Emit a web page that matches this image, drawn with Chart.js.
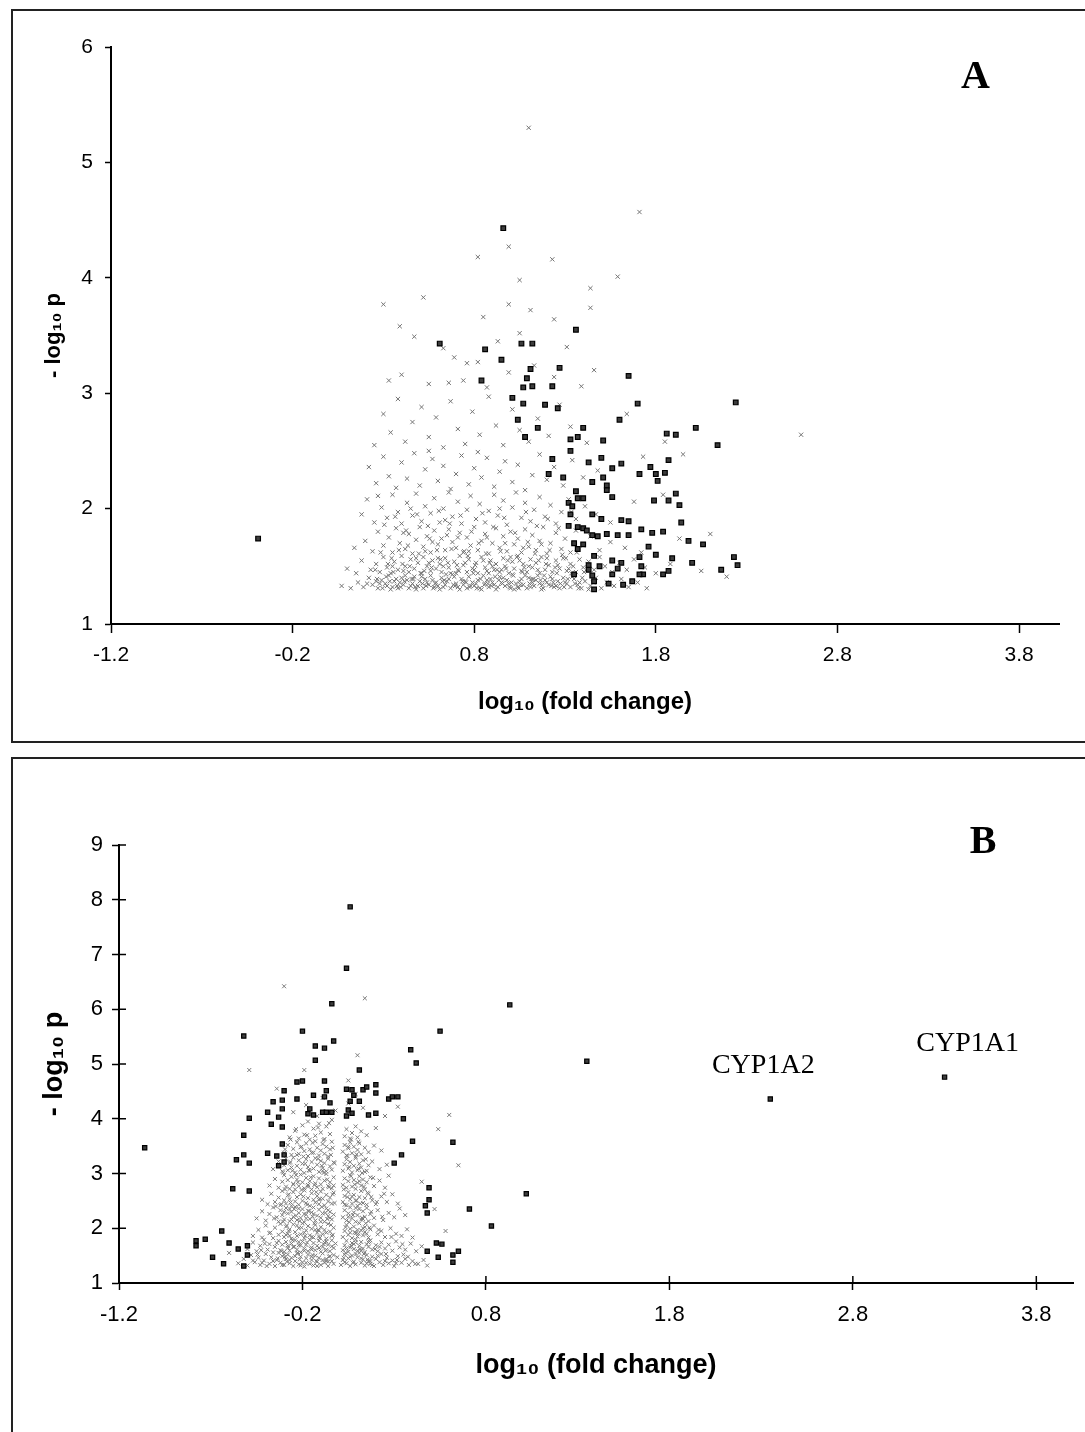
<!DOCTYPE html>
<html>
<head>
<meta charset="utf-8">
<script src="https://cdn.jsdelivr.net/npm/chart.js@4.4.1/dist/chart.umd.min.js"></script>
<style>
  html, body { margin: 0; padding: 0; background: #fff; }
  body { width: 1085px; height: 1432px; position: relative; overflow: hidden; }
  .box { position: absolute; border: 2px solid #222; border-right: none; }
  #boxA { left: 11px; top: 9px; width: 1080px; height: 730px; }
  #boxB { left: 11px; top: 757px; width: 1080px; height: 700px; border-bottom: none; }
  canvas { position: absolute; }
  #chartA { left: 12px; top: 10px; }
  #chartB { left: 12px; top: 759px; }
</style>
</head>
<body>
<div class="box" id="boxA"></div>
<div class="box" id="boxB"></div>
<canvas id="chartA" width="1073" height="732"></canvas>
<canvas id="chartB" width="1073" height="673"></canvas>
<script>
const xTickValues = [-1.2, -0.2, 0.8, 1.8, 2.8, 3.8];

// panel A: grey = all genes with p < 0.05, dark = flagged genes
const aGrey = [
  [0.07,1.33],[0.12,1.31],[0.16,1.36],[0.19,1.32],[0.22,1.40],[0.24,1.34],[0.27,1.31],[0.29,1.38],[0.31,1.35],[0.33,1.42],
  [0.35,1.32],[0.36,1.37],[0.38,1.31],[0.40,1.40],[0.41,1.34],[0.43,1.38],[0.44,1.31],[0.46,1.35],[0.47,1.41],[0.49,1.33],
  [0.50,1.37],[0.52,1.31],[0.53,1.39],[0.55,1.34],[0.56,1.42],[0.58,1.32],[0.59,1.36],[0.61,1.30],[0.62,1.40],[0.64,1.34],
  [0.65,1.37],[0.67,1.31],[0.68,1.43],[0.70,1.35],[0.71,1.32],[0.73,1.39],[0.74,1.34],[0.76,1.31],[0.77,1.41],[0.79,1.36],
  [0.80,1.33],[0.82,1.38],[0.83,1.31],[0.85,1.42],[0.86,1.35],[0.88,1.32],[0.89,1.39],[0.91,1.34],[0.92,1.30],[0.94,1.41],
  [0.95,1.36],[0.97,1.33],[0.98,1.38],[1.00,1.31],[1.01,1.43],[1.03,1.35],[1.04,1.32],[1.06,1.39],[1.07,1.34],[1.09,1.31],
  [1.10,1.40],[1.12,1.36],[1.13,1.33],[1.15,1.42],[1.16,1.35],[1.18,1.31],[1.19,1.38],[1.21,1.34],[1.22,1.41],[1.24,1.32],
  [1.26,1.37],[1.27,1.31],[1.29,1.40],[1.31,1.35],[1.33,1.32],[1.35,1.39],[1.37,1.34],[1.39,1.31],[1.41,1.37],[1.44,1.33],
  [1.47,1.40],[1.50,1.31],[1.53,1.36],[1.57,1.33],[1.61,1.39],[1.65,1.32],[1.70,1.36],[1.75,1.31],
  [0.28,1.35],[0.34,1.30],[0.39,1.36],[0.45,1.33],[0.51,1.41],[0.57,1.38],[0.60,1.33],[0.66,1.39],[0.72,1.30],[0.75,1.37],
  [0.81,1.35],[0.84,1.30],[0.87,1.38],[0.90,1.36],[0.93,1.32],[0.96,1.40],[0.99,1.35],[1.02,1.30],[1.05,1.37],[1.08,1.42],
  [1.11,1.32],[1.14,1.38],[1.17,1.30],[1.20,1.36],[1.23,1.39],[1.25,1.33],[1.30,1.36],[1.34,1.41],[1.38,1.36],[1.43,1.30],
  [0.54,1.36],[0.63,1.32],[0.69,1.41],[0.78,1.33],[0.48,1.30],[0.42,1.42],[0.37,1.39],[0.32,1.33],[0.26,1.37],[0.21,1.35],
  [0.10,1.48],[0.15,1.44],[0.18,1.55],[0.23,1.47],[0.26,1.52],[0.28,1.45],[0.30,1.58],[0.32,1.49],[0.34,1.44],[0.36,1.54],
  [0.38,1.47],[0.40,1.59],[0.42,1.50],[0.44,1.45],[0.45,1.56],[0.47,1.48],[0.49,1.53],[0.51,1.44],[0.52,1.58],[0.54,1.50],
  [0.56,1.46],[0.57,1.55],[0.59,1.48],[0.61,1.52],[0.62,1.45],[0.64,1.57],[0.66,1.49],[0.67,1.44],[0.69,1.54],[0.71,1.47],
  [0.72,1.59],[0.74,1.51],[0.76,1.45],[0.77,1.56],[0.79,1.48],[0.81,1.53],[0.82,1.44],[0.84,1.58],[0.86,1.49],[0.87,1.46],
  [0.89,1.55],[0.91,1.47],[0.92,1.52],[0.94,1.45],[0.96,1.57],[0.97,1.50],[0.99,1.44],[1.01,1.54],[1.02,1.48],[1.04,1.59],
  [1.06,1.46],[1.07,1.52],[1.09,1.45],[1.11,1.56],[1.12,1.49],[1.14,1.53],[1.16,1.44],[1.17,1.58],[1.19,1.47],[1.21,1.51],
  [1.23,1.45],[1.25,1.55],[1.27,1.48],[1.29,1.57],[1.31,1.46],[1.33,1.52],[1.36,1.45],[1.38,1.56],[1.40,1.49],[1.43,1.54],
  [1.46,1.47],[1.49,1.58],[1.52,1.50],[1.56,1.45],[1.60,1.53],[1.64,1.47],[1.68,1.56],[1.74,1.49],[1.80,1.44],[1.88,1.52],
  [2.05,1.46],[2.19,1.41],
  [0.35,1.50],[0.41,1.46],[0.48,1.57],[0.55,1.53],[0.63,1.50],[0.70,1.44],[0.75,1.53],[0.80,1.47],[0.85,1.55],[0.90,1.50],
  [0.95,1.47],[1.00,1.58],[1.05,1.55],[1.10,1.50],[1.15,1.47],[1.20,1.57],[1.26,1.51],[1.32,1.48],[0.60,1.57],[0.88,1.44],
  [0.14,1.66],[0.20,1.72],[0.24,1.63],[0.27,1.80],[0.30,1.68],[0.33,1.75],[0.35,1.62],[0.37,1.83],[0.39,1.70],[0.42,1.65],
  [0.44,1.78],[0.46,1.61],[0.48,1.73],[0.50,1.84],[0.52,1.67],[0.54,1.76],[0.56,1.62],[0.58,1.81],[0.60,1.69],[0.62,1.74],
  [0.64,1.64],[0.66,1.82],[0.68,1.71],[0.70,1.66],[0.72,1.79],[0.74,1.62],[0.76,1.75],[0.78,1.68],[0.80,1.84],[0.82,1.64],
  [0.84,1.72],[0.86,1.78],[0.88,1.61],[0.90,1.70],[0.92,1.83],[0.94,1.66],[0.96,1.76],[0.98,1.63],[1.00,1.80],[1.02,1.69],
  [1.04,1.74],[1.06,1.62],[1.08,1.82],[1.10,1.67],[1.12,1.77],[1.14,1.64],[1.16,1.72],[1.18,1.84],[1.20,1.61],[1.22,1.70],
  [1.25,1.79],[1.28,1.65],[1.30,1.74],[1.33,1.62],[1.36,1.81],[1.40,1.68],[1.44,1.76],[1.49,1.64],[1.55,1.71],[1.63,1.66],
  [1.72,1.62],[1.93,1.74],[2.10,1.78],
  [0.41,1.79],[0.53,1.63],[0.65,1.77],[0.77,1.63],[0.87,1.75],[0.97,1.70],[1.07,1.66],[1.17,1.69],[0.57,1.71],[0.71,1.75],
  [0.18,1.95],[0.21,2.08],[0.25,1.88],[0.29,2.01],[0.32,1.92],[0.35,2.12],[0.38,1.97],[0.40,1.87],[0.43,2.05],[0.46,1.94],
  [0.48,2.13],[0.51,1.89],[0.53,2.02],[0.56,1.96],[0.58,2.09],[0.61,1.88],[0.63,2.00],[0.66,2.14],[0.68,1.93],[0.71,2.06],
  [0.73,1.87],[0.76,1.99],[0.78,2.11],[0.81,1.91],[0.83,2.04],[0.86,1.88],[0.88,1.98],[0.91,2.12],[0.93,1.94],[0.96,2.07],
  [0.98,1.86],[1.01,2.01],[1.03,2.14],[1.06,1.92],[1.08,2.05],[1.11,1.89],[1.13,1.99],[1.16,2.10],[1.19,1.93],[1.22,2.03],
  [1.25,1.87],[1.28,1.97],[1.32,2.08],[1.36,1.91],[1.41,2.02],[1.47,1.95],[1.55,1.88],[1.68,2.06],[1.84,2.12],[0.27,2.11],
  [0.45,2.00],[0.64,1.90],[0.94,2.00],
  [0.22,2.36],[0.26,2.22],[0.30,2.45],[0.33,2.28],[0.37,2.18],[0.40,2.40],[0.43,2.26],[0.47,2.48],[0.50,2.20],[0.53,2.34],
  [0.57,2.43],[0.60,2.24],[0.63,2.37],[0.67,2.17],[0.70,2.30],[0.73,2.46],[0.77,2.21],[0.80,2.35],[0.84,2.27],[0.87,2.44],
  [0.91,2.19],[0.94,2.32],[0.97,2.41],[1.01,2.23],[1.04,2.38],[1.08,2.16],[1.12,2.29],[1.16,2.47],[1.20,2.25],[1.24,2.36],
  [1.29,2.20],[1.34,2.42],[1.40,2.27],[1.48,2.33],[1.73,2.45],[1.95,2.47],[0.55,2.50],[0.82,2.49],
  [0.25,2.55],[0.30,2.82],[0.34,2.66],[0.38,2.95],[0.42,2.58],[0.46,2.75],[0.51,2.88],[0.55,2.62],[0.59,2.79],[0.63,2.53],
  [0.67,2.93],[0.71,2.69],[0.75,2.56],[0.79,2.84],[0.83,2.64],[0.88,2.97],[0.92,2.72],[0.96,2.55],[1.01,2.86],[1.05,2.68],
  [1.10,2.58],[1.15,2.78],[1.21,2.63],[1.27,2.90],[1.33,2.71],[1.42,2.57],[1.64,2.82],[1.85,2.58],[2.60,2.64],
  [0.33,3.11],[0.40,3.16],[0.47,3.49],[0.55,3.08],[0.63,3.39],[0.66,3.09],[0.69,3.31],[0.74,3.11],[0.76,3.26],[0.82,3.27],
  [0.87,3.05],[0.93,3.45],[0.99,3.18],[1.05,3.52],[1.13,3.24],[1.24,3.14],[1.31,3.40],[1.39,3.06],[1.46,3.20],
  [1.10,5.30],[1.71,4.57],[0.99,4.27],[0.82,4.18],[1.23,4.16],[1.59,4.01],[1.44,3.91],[1.44,3.74],[0.30,3.77],[0.99,3.77],
  [1.11,3.72],[0.85,3.66],[1.24,3.64],[0.39,3.58],[0.52,3.83],[1.05,3.98]
];

// the crowded lower part of the panel A cloud
const aGreyCore = [
  [0.255,1.47],[0.285,1.62],[0.315,1.41],[0.345,1.57],[0.375,1.33],[0.405,1.52],[0.435,1.68],[0.465,1.39],[0.495,1.61],[0.525,1.46],
  [0.555,1.74],[0.585,1.35],[0.615,1.56],[0.645,1.43],[0.675,1.65],[0.705,1.51],[0.735,1.37],[0.765,1.59],[0.795,1.44],[0.825,1.70],
  [0.855,1.34],[0.885,1.53],[0.915,1.41],[0.945,1.63],[0.975,1.48],[1.005,1.36],[1.035,1.58],[1.065,1.45],[1.095,1.71],[1.125,1.39],
  [1.155,1.55],[1.185,1.42],[1.215,1.64],[1.245,1.49],[1.275,1.35],[1.305,1.57],[1.335,1.44],[1.365,1.62],[1.395,1.40],[1.425,1.52],
  [0.265,1.39],[0.295,1.31],[0.325,1.52],[0.355,1.45],[0.385,1.64],[0.415,1.37],[0.445,1.50],[0.475,1.32],[0.505,1.44],[0.535,1.33],
  [0.565,1.49],[0.595,1.64],[0.625,1.37],[0.655,1.53],[0.685,1.34],[0.715,1.46],[0.745,1.63],[0.775,1.32],[0.805,1.51],[0.835,1.39],
  [0.865,1.61],[0.895,1.33],[0.925,1.47],[0.955,1.35],[0.985,1.55],[1.015,1.42],[1.045,1.31],[1.075,1.49],[1.105,1.35],[1.135,1.61],
  [1.165,1.38],[1.195,1.52],[1.225,1.33],[1.255,1.44],[1.285,1.60],[1.315,1.39],[1.345,1.50],[1.375,1.31],[1.405,1.45],[1.455,1.36],
  [0.305,1.86],[0.365,1.93],[0.425,1.81],[0.485,1.95],[0.545,1.85],[0.605,1.98],[0.665,1.87],[0.725,1.94],[0.785,1.80],[0.845,1.96],
  [0.905,1.84],[0.965,1.92],[1.025,1.79],[1.085,1.97],[1.145,1.85],[1.205,1.91],[1.265,1.83],[1.335,1.97],
  [0.335,1.37],[0.395,1.32],[0.455,1.39],[0.515,1.35],[0.575,1.31],[0.635,1.38],[0.695,1.33],[0.755,1.36],[0.815,1.31],[0.875,1.35],
  [0.935,1.38],[0.995,1.32],[1.055,1.34],[1.115,1.39],[1.175,1.34],[1.235,1.36],[1.295,1.32],[1.355,1.35]
];

const aDark = [
  [-0.39,1.74],[0.96,4.43],[0.61,3.43],[1.06,3.43],[1.12,3.43],[0.86,3.38],[1.36,3.55],[0.95,3.29],[1.11,3.21],[1.27,3.22],
  [0.84,3.11],[1.09,3.13],[1.12,3.06],[1.07,3.05],[1.23,3.06],[1.65,3.15],[1.01,2.96],[1.07,2.91],[1.19,2.90],[1.26,2.87],
  [1.70,2.91],[2.24,2.92],[1.04,2.77],[1.60,2.77],[1.15,2.70],[1.08,2.62],[1.33,2.60],[1.37,2.62],[1.40,2.70],[2.02,2.70],
  [1.86,2.65],[1.91,2.64],[1.51,2.59],[1.33,2.50],[2.14,2.55],[1.23,2.43],[1.43,2.40],[1.50,2.44],[1.61,2.39],[1.87,2.42],
  [1.56,2.35],[1.21,2.30],[1.29,2.27],[1.51,2.27],[1.45,2.23],[1.71,2.30],[1.77,2.36],[1.80,2.30],[1.81,2.24],[1.85,2.31],
  [1.53,2.20],[1.53,2.16],[1.36,2.15],[1.56,2.10],[1.91,2.13],[1.40,2.09],[1.37,2.09],[1.79,2.07],[1.87,2.07],[1.93,2.03],
  [1.32,2.05],[1.34,2.02],[1.33,1.95],[1.45,1.95],[1.50,1.91],[1.61,1.90],[1.65,1.89],[1.94,1.88],[1.32,1.85],[1.37,1.84],
  [1.40,1.83],[1.42,1.81],[1.45,1.77],[1.48,1.76],[1.53,1.78],[1.59,1.77],[1.65,1.77],[1.72,1.82],[1.78,1.79],[1.84,1.80],
  [1.35,1.70],[1.40,1.69],[1.37,1.65],[1.76,1.67],[1.98,1.72],[2.06,1.69],[2.23,1.58],[2.25,1.51],[2.16,1.47],[2.00,1.53],
  [1.89,1.57],[1.80,1.60],[1.71,1.58],[1.46,1.59],[1.43,1.51],[1.43,1.47],[1.45,1.42],[1.49,1.50],[1.56,1.55],[1.61,1.53],
  [1.59,1.48],[1.56,1.43],[1.54,1.35],[1.46,1.37],[1.46,1.30],[1.62,1.34],[1.67,1.37],[1.72,1.50],[1.73,1.43],[1.84,1.43],
  [1.87,1.46],[1.71,1.43],[1.35,1.43]
];

// panel B
const bGrey = [
  [-0.55,1.36],[-0.52,1.44],[-0.50,1.32],[-0.48,1.51],[-0.46,1.38],[-0.44,1.46],[-0.43,1.33],[-0.41,1.41],[-0.40,1.53],[-0.38,1.35],
  [-0.37,1.47],[-0.35,1.31],[-0.34,1.42],[-0.33,1.55],[-0.32,1.37],[-0.31,1.49],[-0.30,1.33],[-0.29,1.44],[-0.28,1.52],[-0.27,1.36],
  [-0.26,1.46],[-0.25,1.31],[-0.24,1.40],[-0.23,1.54],[-0.22,1.34],[-0.21,1.48],[-0.20,1.38],[-0.19,1.30],[-0.18,1.45],[-0.17,1.52],
  [-0.16,1.35],[-0.15,1.42],[-0.14,1.32],[-0.13,1.50],[-0.12,1.39],[-0.11,1.46],[-0.10,1.33],[-0.09,1.54],[-0.08,1.37],[-0.07,1.44],
  [-0.06,1.31],[-0.05,1.49],[-0.04,1.40],[-0.03,1.35],[-0.01,1.47],[0.01,1.33],[0.02,1.42],[0.03,1.52],[0.04,1.36],[0.05,1.45],
  [0.06,1.31],[0.07,1.50],[0.08,1.39],[0.09,1.34],[0.10,1.47],[0.11,1.55],[0.12,1.37],[0.13,1.43],[0.14,1.32],[0.15,1.51],
  [0.16,1.40],[0.17,1.35],[0.18,1.48],[0.19,1.31],[0.20,1.44],[0.22,1.38],[0.23,1.53],[0.24,1.33],[0.26,1.46],[0.27,1.36],
  [0.29,1.41],[0.30,1.31],[0.32,1.49],[0.34,1.37],[0.36,1.44],[0.38,1.33],[0.40,1.40],[0.43,1.35],[0.46,1.42],[0.48,1.32],
  [-0.47,1.41],[-0.42,1.37],[-0.36,1.40],[-0.30,1.52],[-0.27,1.42],[-0.24,1.49],[-0.21,1.32],[-0.18,1.37],[-0.15,1.48],[-0.12,1.31],
  [-0.09,1.42],[-0.06,1.39],[-0.03,1.51],[0.03,1.38],[0.06,1.48],[0.09,1.53],[0.12,1.45],[0.15,1.36],[0.18,1.33],[0.21,1.50],
  [0.25,1.40],[0.31,1.36],[0.35,1.52],
  [-0.50,1.62],[-0.47,1.74],[-0.45,1.58],[-0.43,1.68],[-0.41,1.79],[-0.39,1.61],[-0.38,1.71],[-0.36,1.56],[-0.35,1.66],[-0.33,1.77],
  [-0.32,1.60],[-0.31,1.70],[-0.30,1.57],[-0.29,1.75],[-0.28,1.64],[-0.27,1.59],[-0.26,1.72],[-0.25,1.66],[-0.24,1.78],[-0.23,1.61],
  [-0.22,1.69],[-0.21,1.56],[-0.20,1.76],[-0.19,1.63],[-0.18,1.70],[-0.17,1.58],[-0.16,1.79],[-0.15,1.65],[-0.14,1.73],[-0.13,1.60],
  [-0.12,1.68],[-0.11,1.77],[-0.10,1.57],[-0.09,1.66],[-0.08,1.74],[-0.07,1.61],[-0.06,1.70],[-0.05,1.58],[-0.04,1.78],[-0.03,1.64],
  [-0.02,1.72],[0.02,1.60],[0.03,1.69],[0.04,1.77],[0.05,1.57],[0.06,1.65],[0.07,1.73],[0.08,1.62],[0.09,1.79],[0.10,1.59],
  [0.11,1.68],[0.12,1.75],[0.13,1.63],[0.14,1.56],[0.15,1.71],[0.16,1.66],[0.17,1.78],[0.18,1.61],[0.20,1.69],[0.21,1.58],
  [0.23,1.74],[0.25,1.63],[0.27,1.70],[0.29,1.59],[0.31,1.76],[0.33,1.65],[0.36,1.61],[0.39,1.72],[0.42,1.58],[0.45,1.67],
  [-0.34,1.73],[-0.28,1.68],[-0.22,1.75],[-0.19,1.59],[-0.15,1.61],[-0.11,1.64],[-0.07,1.76],[-0.04,1.67],[0.04,1.63],[0.08,1.71],
  [0.12,1.59],[0.16,1.74],[0.22,1.66],
  [-0.47,1.86],[-0.44,1.97],[-0.42,1.83],[-0.40,2.05],[-0.38,1.91],[-0.36,1.82],[-0.35,2.01],[-0.33,1.88],[-0.32,2.08],[-0.31,1.94],
  [-0.30,1.84],[-0.29,2.03],[-0.28,1.90],[-0.27,1.98],[-0.26,1.81],[-0.25,2.07],[-0.24,1.93],[-0.23,1.86],[-0.22,2.00],[-0.21,1.89],
  [-0.20,2.09],[-0.19,1.82],[-0.18,1.96],[-0.17,2.04],[-0.16,1.87],[-0.15,1.99],[-0.14,1.83],[-0.13,2.06],[-0.12,1.92],[-0.11,1.85],
  [-0.10,2.02],[-0.09,1.89],[-0.08,1.97],[-0.07,1.81],[-0.06,2.08],[-0.05,1.94],[-0.04,1.86],[-0.03,2.01],[0.02,1.84],[0.03,1.95],
  [0.04,2.06],[0.05,1.88],[0.06,1.99],[0.07,1.82],[0.08,2.03],[0.09,1.91],[0.10,1.85],[0.11,2.09],[0.12,1.96],[0.13,1.87],
  [0.14,2.02],[0.15,1.90],[0.16,1.83],[0.17,1.98],[0.19,2.05],[0.21,1.89],[0.23,1.95],[0.25,1.84],[0.28,2.00],[0.31,1.90],
  [0.34,1.86],[0.37,1.98],[0.40,1.83],
  [-0.27,1.86],[-0.23,2.05],[-0.19,1.92],[-0.15,1.84],[-0.11,1.96],[-0.07,1.92],[0.06,1.92],[0.10,1.97],[0.14,1.93],
  [-0.45,2.18],[-0.42,2.31],[-0.40,2.14],[-0.38,2.26],[-0.36,2.38],[-0.34,2.20],[-0.33,2.12],[-0.32,2.33],[-0.31,2.24],[-0.30,2.16],
  [-0.29,2.37],[-0.28,2.27],[-0.27,2.13],[-0.26,2.30],[-0.25,2.21],[-0.24,2.39],[-0.23,2.15],[-0.22,2.28],[-0.21,2.19],[-0.20,2.35],
  [-0.19,2.11],[-0.18,2.25],[-0.17,2.32],[-0.16,2.17],[-0.15,2.29],[-0.14,2.38],[-0.13,2.14],[-0.12,2.23],[-0.11,2.34],[-0.10,2.19],
  [-0.09,2.27],[-0.08,2.12],[-0.07,2.36],[-0.06,2.22],[-0.05,2.30],[-0.04,2.16],[-0.03,2.25],[0.02,2.20],[0.03,2.33],[0.04,2.14],
  [0.05,2.27],[0.06,2.38],[0.07,2.18],[0.08,2.29],[0.09,2.12],[0.10,2.24],[0.11,2.35],[0.12,2.16],[0.13,2.31],[0.14,2.21],
  [0.15,2.37],[0.16,2.13],[0.17,2.26],[0.19,2.19],[0.21,2.33],[0.24,2.15],[0.27,2.28],[0.30,2.20],[0.33,2.36],[0.36,2.24],
  [-0.30,2.30],[-0.26,2.16],[-0.22,2.36],[-0.18,2.18],[-0.14,2.26],[-0.10,2.12],[-0.06,2.33],[0.05,2.21],[0.09,2.37],[0.13,2.17],
  [-0.42,2.52],[-0.39,2.44],[-0.37,2.63],[-0.35,2.48],[-0.33,2.56],[-0.32,2.42],[-0.31,2.68],[-0.30,2.51],[-0.29,2.45],[-0.28,2.60],
  [-0.27,2.53],[-0.26,2.41],[-0.25,2.66],[-0.24,2.49],[-0.23,2.57],[-0.22,2.43],[-0.21,2.62],[-0.20,2.50],[-0.19,2.69],[-0.18,2.46],
  [-0.17,2.55],[-0.16,2.41],[-0.15,2.64],[-0.14,2.52],[-0.13,2.47],[-0.12,2.59],[-0.11,2.44],[-0.10,2.67],[-0.09,2.54],[-0.08,2.42],
  [-0.07,2.61],[-0.06,2.49],[-0.05,2.56],[-0.04,2.45],[-0.03,2.65],[0.02,2.48],[0.03,2.59],[0.04,2.42],[0.05,2.66],[0.06,2.53],
  [0.07,2.45],[0.08,2.61],[0.09,2.50],[0.10,2.41],[0.11,2.57],[0.12,2.68],[0.13,2.46],[0.14,2.55],[0.15,2.43],[0.16,2.63],
  [0.18,2.51],[0.20,2.44],[0.23,2.58],[0.26,2.48],[0.29,2.62],[0.32,2.45],
  [-0.38,2.78],[-0.35,2.90],[-0.33,2.74],[-0.31,2.85],[-0.30,2.97],[-0.29,2.76],[-0.28,2.88],[-0.27,2.72],[-0.26,2.94],[-0.25,2.81],
  [-0.24,2.71],[-0.23,2.89],[-0.22,2.77],[-0.21,2.98],[-0.20,2.84],[-0.19,2.73],[-0.18,2.92],[-0.17,2.79],[-0.16,2.86],[-0.15,2.71],
  [-0.14,2.95],[-0.13,2.82],[-0.12,2.75],[-0.11,2.91],[-0.10,2.80],[-0.09,2.72],[-0.08,2.87],[-0.07,2.99],[-0.06,2.77],[-0.05,2.84],
  [-0.04,2.73],[-0.03,2.93],[0.02,2.79],[0.03,2.91],[0.04,2.74],[0.05,2.86],[0.06,2.97],[0.07,2.76],[0.08,2.88],[0.09,2.72],
  [0.10,2.83],[0.11,2.95],[0.12,2.78],[0.13,2.89],[0.14,2.71],[0.15,2.84],[0.17,2.93],[0.19,2.77],[0.22,2.87],[0.25,2.74],
  [0.27,2.96],
  [-0.36,3.08],[-0.33,3.22],[-0.31,3.04],[-0.30,3.15],[-0.29,3.27],[-0.28,3.06],[-0.27,3.19],[-0.26,3.11],[-0.25,3.29],[-0.24,3.02],
  [-0.23,3.14],[-0.22,3.24],[-0.21,3.07],[-0.20,3.18],[-0.19,3.01],[-0.18,3.26],[-0.17,3.12],[-0.16,3.05],[-0.15,3.21],[-0.14,3.09],
  [-0.13,3.28],[-0.12,3.16],[-0.11,3.03],[-0.10,3.23],[-0.09,3.10],[-0.08,3.19],[-0.07,3.04],[-0.06,3.27],[-0.05,3.13],[-0.04,3.07],
  [-0.03,3.20],[0.02,3.05],[0.03,3.17],[0.04,3.26],[0.05,3.09],[0.06,3.21],[0.07,3.02],[0.08,3.14],[0.09,3.28],[0.10,3.06],
  [0.11,3.18],[0.12,3.11],[0.13,3.24],[0.14,3.03],[0.16,3.15],[0.18,3.22],[0.22,3.08],[0.26,3.16],
  [-0.30,3.38],[-0.28,3.52],[-0.26,3.34],[-0.25,3.45],[-0.23,3.57],[-0.22,3.36],[-0.21,3.48],[-0.19,3.41],[-0.18,3.55],[-0.17,3.32],
  [-0.16,3.44],[-0.14,3.38],[-0.13,3.59],[-0.12,3.47],[-0.11,3.33],[-0.10,3.42],[-0.09,3.54],[-0.08,3.36],[-0.07,3.49],[-0.06,3.31],
  [-0.05,3.44],[-0.04,3.58],[0.02,3.40],[0.03,3.52],[0.04,3.33],[0.05,3.46],[0.06,3.57],[0.07,3.37],[0.08,3.49],[0.09,3.31],
  [0.10,3.43],[0.11,3.55],[0.12,3.35],[0.14,3.47],[0.16,3.39],[0.19,3.51],[0.23,3.42],
  [-0.27,3.66],[-0.24,3.78],[-0.22,3.64],[-0.20,3.88],[-0.19,3.71],[-0.17,3.95],[-0.16,3.62],[-0.14,3.82],[-0.13,3.69],[-0.11,3.91],
  [-0.10,3.75],[-0.08,3.63],[-0.07,3.86],[-0.05,3.72],[-0.04,3.98],[0.03,3.68],[0.04,3.81],[0.06,3.64],[0.07,3.74],[0.09,3.86],
  [0.10,3.66],[0.12,3.77],[0.15,3.70],[0.20,3.83],
  [-0.25,4.12],[-0.18,4.25],[-0.12,4.05],[-0.09,4.38],[-0.02,4.15],[0.05,4.28],[0.09,4.45],[0.13,4.20],[0.25,4.05],[0.32,4.22],
  [-0.30,6.42],[0.14,6.20],[-0.49,4.89],[-0.19,4.89],[0.10,5.16],[0.54,3.81],[0.60,4.07],[0.65,3.15],[0.45,2.85],[0.52,2.35],
  [0.58,1.95],[-0.60,1.55],[0.05,4.70],[-0.34,4.55]
];

// the two crowded columns of the panel B cloud
const bGreyCore = [
  [-0.315,1.58],[-0.305,2.12],[-0.295,2.71],[-0.285,1.39],[-0.275,1.95],[-0.265,2.47],[-0.255,3.05],[-0.245,1.66],[-0.235,2.23],[-0.225,2.84],
  [-0.215,1.43],[-0.205,2.01],[-0.195,2.58],[-0.185,3.18],[-0.175,1.74],[-0.165,2.31],[-0.155,2.93],[-0.145,1.51],[-0.135,2.09],[-0.125,2.66],
  [-0.115,3.27],[-0.105,1.82],[-0.095,2.39],[-0.085,3.01],[-0.075,1.59],[-0.065,2.17],[-0.055,2.75],[-0.045,3.34],[-0.035,1.88],[-0.025,2.46],
  [-0.315,2.44],[-0.305,3.02],[-0.295,1.47],[-0.285,2.05],[-0.275,2.62],[-0.265,3.21],[-0.255,1.78],[-0.245,2.35],[-0.235,2.97],[-0.225,1.55],
  [-0.215,2.13],[-0.205,2.70],[-0.195,3.31],[-0.185,1.86],[-0.175,2.43],[-0.165,3.06],[-0.155,1.63],[-0.145,2.21],[-0.135,2.79],[-0.125,1.40],
  [-0.115,1.97],[-0.105,2.54],[-0.095,3.14],[-0.085,1.71],[-0.075,2.28],[-0.065,2.89],[-0.055,1.48],[-0.045,2.06],[-0.035,2.62],[-0.025,3.19],
  [-0.31,1.33],[-0.29,1.88],[-0.27,2.35],[-0.25,2.80],[-0.23,3.34],[-0.21,1.69],[-0.19,2.26],[-0.17,2.76],[-0.15,3.38],[-0.13,1.97],
  [-0.11,2.52],[-0.09,3.05],[-0.07,1.40],[-0.05,2.19],[-0.03,2.78],
  [-0.295,3.44],[-0.265,3.62],[-0.235,3.81],[-0.205,3.49],[-0.175,3.70],[-0.145,3.56],[-0.115,3.84],[-0.085,3.61],[-0.055,3.92],[-0.035,3.47],
  [0.025,1.46],[0.035,2.02],[0.045,2.57],[0.055,3.12],[0.065,1.68],[0.075,2.24],[0.085,2.80],[0.095,3.35],[0.105,1.90],[0.115,2.45],
  [0.125,3.01],[0.135,1.53],[0.145,2.09],[0.155,2.65],[0.165,1.76],[0.175,2.30],
  [0.025,2.71],[0.035,1.55],[0.045,3.32],[0.055,2.11],[0.065,2.95],[0.075,1.37],[0.085,1.93],[0.095,2.51],[0.105,3.09],[0.115,1.62],
  [0.125,2.19],[0.135,2.76],[0.145,3.26],[0.155,1.43],[0.165,2.01],[0.175,2.57],
  [0.03,2.43],[0.05,3.49],[0.07,2.58],[0.09,1.74],[0.11,2.86],[0.13,2.00],[0.15,3.05],[0.17,1.40],[0.065,3.62],[0.105,3.58],
  [-0.445,1.52],[-0.405,1.72],[-0.375,1.92],[-0.355,2.18],[-0.345,2.40],[-0.335,1.45],[-0.395,1.31],[-0.425,1.60],[0.195,1.62],[0.215,1.97],
  [0.235,2.21],[0.255,1.53],[0.285,1.84],[0.315,1.42],[0.345,1.71],[0.375,1.48],[0.415,1.35],[0.205,2.48],[0.245,2.63],[0.185,2.92]
];

const bDark = [
  [-1.06,3.47],[0.06,7.87],[0.04,6.75],[-0.04,6.10],[0.93,6.08],[1.35,5.05],[1.02,2.63],
  [-0.20,5.60],[-0.52,5.51],[-0.03,5.42],[-0.13,5.33],[-0.08,5.29],[-0.13,5.07],[0.11,4.89],[0.55,5.60],[0.39,5.26],
  [0.42,5.02],[-0.23,4.67],[-0.20,4.69],[-0.08,4.69],[-0.30,4.51],[-0.07,4.51],[0.04,4.54],[0.07,4.53],[0.13,4.53],[0.15,4.58],
  [0.20,4.62],[0.20,4.47],[0.08,4.43],[-0.14,4.43],[-0.08,4.40],[0.27,4.36],[0.29,4.40],[0.32,4.40],[-0.23,4.36],[-0.36,4.31],
  [-0.31,4.34],[-0.05,4.29],[0.11,4.32],[0.06,4.32],[-0.39,4.12],[-0.31,4.18],[-0.16,4.18],[-0.17,4.09],[-0.14,4.07],[-0.09,4.12],
  [-0.07,4.12],[-0.04,4.12],[0.05,4.16],[0.07,4.10],[0.04,4.05],[0.16,4.07],[0.20,4.10],[0.35,4.00],[-0.49,4.01],[-0.33,4.03],
  [-0.37,3.90],[-0.31,3.85],[-0.52,3.70],[-0.31,3.54],[0.40,3.59],[0.62,3.57],[-0.39,3.37],[-0.34,3.32],[-0.30,3.34],[-0.30,3.21],
  [-0.33,3.14],[-0.52,3.34],[-0.56,3.25],[-0.49,3.19],[0.34,3.34],[0.30,3.19],[-0.58,2.72],[-0.49,2.68],[0.49,2.74],[0.49,2.52],
  [0.47,2.41],[0.48,2.28],[0.71,2.35],[0.83,2.04],[-0.64,1.95],[-0.78,1.77],[-0.78,1.68],[-0.73,1.80],[-0.60,1.73],[-0.55,1.62],
  [-0.50,1.68],[-0.50,1.51],[-0.69,1.47],[-0.63,1.35],[-0.52,1.31],[0.53,1.73],[0.56,1.71],[0.48,1.58],[0.54,1.47],[0.62,1.51],
  [0.65,1.58],[0.62,1.38]
];

const cypNames = ['CYP1A2', 'CYP1A1'];
const cypPoints = [[2.35, 4.36], [3.30, 4.76]];

const toXY = (arr) => arr.map(([x, y]) => ({ x, y }));

// panel letter and gene names, placed through the chart scales
const panelText = {
  id: 'panelText',
  afterDatasetsDraw(chart, args, opts) {
    const { ctx, scales: { x, y } } = chart;
    ctx.save();
    ctx.fillStyle = '#000';
    ctx.textAlign = 'center';
    ctx.textBaseline = 'middle';
    ctx.font = 'bold 40px "Liberation Serif", "Times New Roman", serif';
    ctx.fillText(opts.letter, x.getPixelForValue(opts.letterAt[0]), y.getPixelForValue(opts.letterAt[1]));
    ctx.font = '28px "Liberation Serif", "Times New Roman", serif';
    (opts.notes || []).forEach((n) => {
      ctx.fillText(n.text, x.getPixelForValue(n.at[0]) + n.dx, y.getPixelForValue(n.at[1]) + n.dy);
    });
    ctx.restore();
  },
};

// tick marks that also run into the plot area (panel B style)
const crossTicks = {
  id: 'crossTicks',
  afterDraw(chart, args, opts) {
    if (!opts.len) return;
    const { ctx, chartArea, scales: { x, y } } = chart;
    ctx.save();
    ctx.strokeStyle = '#000';
    ctx.lineWidth = 1.5;
    x.ticks.forEach((t) => {
      const px = x.getPixelForValue(t.value);
      ctx.beginPath();
      ctx.moveTo(px, chartArea.bottom);
      ctx.lineTo(px, chartArea.bottom - opts.len);
      ctx.stroke();
    });
    y.ticks.forEach((t) => {
      const py = y.getPixelForValue(t.value);
      ctx.beginPath();
      ctx.moveTo(chartArea.left, py);
      ctx.lineTo(chartArea.left + opts.len, py);
      ctx.stroke();
    });
    ctx.restore();
  },
};

function volcano(canvasId, p) {
  return new Chart(document.getElementById(canvasId), {
    type: 'scatter',
    data: {
      datasets: [
        {
          data: toXY(p.dark),
          pointStyle: 'rect',
          pointRadius: p.darkR,
          pointBackgroundColor: '#3c3c3c',
          pointBorderColor: '#000',
          pointBorderWidth: 1.2,
          order: 0,
        },
        {
          data: toXY(p.grey),
          pointStyle: 'crossRot',
          pointRadius: p.greyR,
          pointBorderColor: p.greyColor,
          pointBorderWidth: 1,
          order: 1,
        },
      ],
    },
    options: {
      responsive: false,
      animation: false,
      events: [],
      layout: { padding: p.pad },
      plugins: {
        legend: { display: false },
        tooltip: { enabled: false },
        panelText: { letter: p.letter, letterAt: p.letterAt, notes: p.notes },
        crossTicks: { len: p.crossLen },
      },
      scales: {
        x: {
          type: 'linear',
          min: -1.2,
          max: p.xMax,
          afterBuildTicks: (s) => { s.ticks = xTickValues.map((v) => ({ value: v })); },
          afterFit: (s) => { s.height = p.xHeight; },
          ticks: {
            autoSkip: false,
            maxRotation: 0,
            padding: p.xTickPad,
            color: '#000',
            font: { family: '"Liberation Sans", Arial, sans-serif', size: p.tickSize },
            callback: (v) => Number(v).toFixed(1),
          },
          grid: { drawOnChartArea: false, drawTicks: true, tickLength: p.xTickLen, tickColor: '#000', tickWidth: 1.5 },
          border: { display: true, color: '#000', width: 2 },
          title: {
            display: true,
            text: 'log\u2081\u2080 (fold change)',
            color: '#000',
            font: { family: '"Liberation Sans", Arial, sans-serif', size: p.xTitleSize, weight: 'bold' },
            padding: { top: 0, bottom: p.xTitlePad },
          },
        },
        y: {
          type: 'linear',
          min: 1,
          max: p.yMax,
          afterFit: (s) => { s.width = p.yWidth; },
          ticks: {
            stepSize: 1,
            padding: p.yTickPad,
            color: '#000',
            font: { family: '"Liberation Sans", Arial, sans-serif', size: p.tickSize },
          },
          grid: { drawOnChartArea: false, drawTicks: true, tickLength: p.yTickLen, tickColor: '#000', tickWidth: 1.5 },
          border: { display: true, color: '#000', width: 2 },
          title: {
            display: true,
            text: '- log\u2081\u2080 p',
            color: '#000',
            font: { family: '"Liberation Sans", Arial, sans-serif', size: p.yTitleSize, weight: 'bold' },
            padding: { top: p.yTitlePad, bottom: 0 },
          },
        },
      },
    },
    plugins: [panelText, crossTicks],
  });
}

volcano('chartA', {
  grey: aGrey.concat(aGreyCore), dark: aDark,
  greyR: 3, darkR: 3.3, greyColor: '#747474',
  pad: { left: 0, top: 37, right: 26, bottom: 0 },
  xMax: 4.02, yMax: 6,
  xHeight: 118, yWidth: 99,
  tickSize: 21, xTickLen: 9, xTickPad: 10, yTickLen: 6, yTickPad: 12,
  xTitleSize: 24, xTitlePad: 25, yTitleSize: 22, yTitlePad: 29,
  letter: 'A', letterAt: [3.56, 5.73], notes: [], crossLen: 0,
});

volcano('chartB', {
  grey: bGrey.concat(bGreyCore), dark: bDark.concat(cypPoints),
  greyR: 2.8, darkR: 3, greyColor: '#7a7a7a',
  pad: { left: 0, top: 86, right: 12, bottom: 0 },
  xMax: 4.0, yMax: 9,
  xHeight: 149, yWidth: 107,
  tickSize: 22, xTickLen: 7, xTickPad: 12, yTickLen: 7, yTickPad: 9,
  xTitleSize: 27, xTitlePad: 50, yTitleSize: 27, yTitlePad: 26,
  letter: 'B', letterAt: [3.51, 9.05],
  notes: cypNames.map((name, i) => ({ text: name, at: cypPoints[i], dx: i === 0 ? -7 : 23, dy: -33 })),
  crossLen: 7,
});
</script>
</body>
</html>
